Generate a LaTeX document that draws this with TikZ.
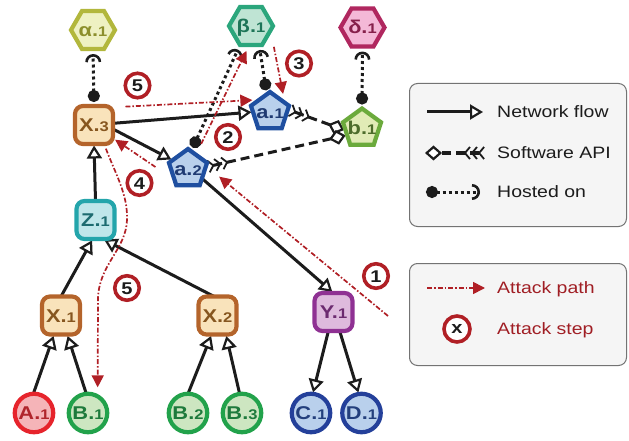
\documentclass[tikz,border=0pt]{standalone}
\usepackage{fontspec}
\setmainfont{Liberation Sans}
\newfontfamily\dfont[FakeStretch=1.18]{Liberation Sans}
\usetikzlibrary{arrows.meta,shapes.geometric}
\pgfdeclarelayer{bg}
\pgfsetlayers{bg,main}

% node palettes: fill, outline, text
\definecolor{alphafill}{HTML}{EEF1C2}\definecolor{alphaline}{HTML}{B2B73C}\definecolor{alphatext}{HTML}{8C8F2C}
\definecolor{betafill}{HTML}{BFE4D4}\definecolor{betaline}{HTML}{2BA67C}\definecolor{betatext}{HTML}{1E7558}
\definecolor{deltafill}{HTML}{F4B8D7}\definecolor{deltaline}{HTML}{B0275F}\definecolor{deltatext}{HTML}{86204B}
\definecolor{xfill}{HTML}{F9E3BB}\definecolor{xline}{HTML}{B4642B}\definecolor{xtext}{HTML}{86561F}
\definecolor{zfill}{HTML}{BFE6EA}\definecolor{zline}{HTML}{24A5AB}\definecolor{ztext}{HTML}{1D6B70}
\definecolor{yfill}{HTML}{DEBADD}\definecolor{yline}{HTML}{8F3193}\definecolor{ytext}{HTML}{6C2B70}
\definecolor{afill}{HTML}{B9D0EC}\definecolor{aline}{HTML}{1F4FA0}\definecolor{atext}{HTML}{1F3A72}
\definecolor{bfill}{HTML}{E1EBB6}\definecolor{bline}{HTML}{6BAA3C}\definecolor{btext}{HTML}{4D6C2B}
\definecolor{redfill}{HTML}{F5B4B8}\definecolor{redline}{HTML}{E6242C}\definecolor{redtext}{HTML}{B0252C}
\definecolor{grnfill}{HTML}{CDE6C1}\definecolor{grnline}{HTML}{22A24B}\definecolor{grntext}{HTML}{1E7A3C}
\definecolor{blufill}{HTML}{B9D0EC}\definecolor{bluline}{HTML}{24409A}\definecolor{blutext}{HTML}{233F7C}
\definecolor{atkred}{HTML}{B01F25}
\definecolor{atktext}{HTML}{A01E24}
\definecolor{ink}{HTML}{1C1C1C}

\newcommand\lblfont{\dfont\bfseries\fontsize{18.5}{18.5}\selectfont}
\newcommand\nlab[2]{\makebox[0pt][c]{#1.{\fontsize{14}{14}\selectfont#2}}}

\begin{document}
\begin{tikzpicture}[x=1pt,y=-1pt,
  shp/.style={inner sep=0pt, outer sep=0pt, line width=4.2pt, text height=13pt, text depth=0pt, font=\lblfont},
  hexnode/.style={shp, regular polygon, regular polygon sides=6, minimum size=44pt, draw=#1line, fill=#1fill, text=#1text},
  pentnode/.style={shp, regular polygon, regular polygon sides=5, minimum size=40pt, draw=#1line, fill=#1fill, text=#1text},
  boxnode/.style={shp, rectangle, rounded corners=8pt, minimum size=38pt, draw=#1line, fill=#1fill, text=#1text},
  roundnode/.style={shp, circle, minimum size=38.5pt, draw=#1line, fill=#1fill, text=#1text},
  flow/.style={draw=ink, line width=3pt, shorten >=1.5pt,
    -{Triangle[length=13pt,width=15pt,fill=white,line width=2.2pt]}},
  api/.style={draw=ink, line width=3pt, dash pattern=on 9pt off 5pt,
    {Straight Barb[reversed,length=5pt,width=12pt,line width=1.8pt]Straight Barb[reversed,length=5pt,width=12pt,line width=1.8pt]Straight Barb[reversed,length=5pt,width=12pt,line width=1.8pt]}-{Diamond[length=17pt,width=15pt,fill=white,line width=2.2pt]}},
  hosted/.style={draw=ink, line width=3pt, dash pattern=on 3pt off 3pt, shorten <=4pt, shorten >=5pt,
    {Circle[length=12pt]}-{Arc Barb[length=8pt,width=16pt,line width=2.6pt]}},
  atk/.style={draw=atkred, line width=1.7pt, dash pattern=on 5pt off 2pt on 1.5pt off 2pt,
    -{Triangle[length=12pt,width=12pt]}},
  stepmark/.style={circle, draw=atkred, line width=3.6pt, fill=white, minimum size=24.5pt, inner sep=0pt,
    text=ink, font=\dfont\bfseries\fontsize{17}{17}\selectfont, text height=12.2pt, text depth=0pt},
  legbox/.style={draw=black!55, line width=1pt, fill=black!4, rounded corners=8pt, anchor=north west},
  legtext/.style={anchor=west, inner sep=0pt, font=\dfont\fontsize{16.5}{18}\selectfont, text=ink,
    text height=11.8pt, text depth=0pt}]
\useasboundingbox (0,0) rectangle (629,441);

% hosts
\node[hexnode=alpha] (alpha) at (93,30) {\nlab{α}{1}};
\node[hexnode=beta]  (beta)  at (251,26) {\nlab{β}{1}};
\node[hexnode=delta] (delta) at (362.5,27.5) {\nlab{δ}{1}};

% software components
\node[pentnode=a] (a1) at (270,112) {\nlab{a}{1}};
\node[pentnode=a] (a2) at (188,169) {\nlab{a}{2}};
\node[pentnode=b] (b1) at (362,128.5) {\nlab{b}{1}};

% network devices
\node[boxnode=x] (X3) at (94,125) {\nlab{X}{3}};
\node[boxnode=z] (Z1) at (95.5,220) {\nlab{Z}{1}};
\node[boxnode=x] (X1) at (61,315.5) {\nlab{X}{1}};
\node[boxnode=x] (X2) at (217.5,315.5) {\nlab{X}{2}};
\node[boxnode=y] (Y1) at (333.5,312) {\nlab{Y}{1}};

% end points
\node[roundnode=red] (A1) at (34,413) {\nlab{A}{1}};
\node[roundnode=grn] (B1) at (88,413) {\nlab{B}{1}};
\node[roundnode=grn] (B2) at (188,413) {\nlab{B}{2}};
\node[roundnode=grn] (B3) at (242,413) {\nlab{B}{3}};
\node[roundnode=blu] (C1) at (311,413) {\nlab{C}{1}};
\node[roundnode=blu] (D1) at (361.5,413) {\nlab{D}{1}};

\coordinate (atk1) at (388,316);

\begin{pgfonlayer}{bg}
  % network flows
  \draw[flow] (A1.92) -- (X1.-110);
  \draw[flow] (B1.95) -- (X1.-72);
  \draw[flow] (B2.90) -- (X2.-107);
  \draw[flow] (B3.97) -- (X2.-66);
  \draw[flow] (X1.north) -- (Z1.-98);
  \draw[flow] (X2.100) -- (Z1.-69);
  \draw[flow] (Z1.north) -- (X3.south);
  \draw[flow] (X3.5) -- (a1.180);
  \draw[flow] (X3.-12) -- (a2.150);
  \draw[flow] (a2.-34) -- (Y1.north);
  \draw[flow] (Y1.-105) -- (C1.85);
  \draw[flow] (Y1.-72) -- (D1.98);
  % software interfaces
  \draw[api, shorten <=2pt, shorten >=1.5pt] (a1.8) -- (b1.187);
  \draw[api, shorten <=2pt, shorten >=1.5pt] (a2.6) -- (b1.204);
  % hosting
  \draw[hosted] (X3.north) -- (alpha.south);
  \draw[hosted] (a1.100) -- (beta.-67);
  \draw[hosted] (a2.80) -- (beta.-120);
  \draw[hosted] (b1.north) -- (delta.south);
  % attack path
  \draw[atk, shorten >=17pt] (atk1) -- (a2.10);
  \draw[atk, shorten <=12pt, shorten >=6.5pt] (a2.61) -- (beta.-95);
  \draw[atk, shorten <=17pt, shorten >=9pt] (beta.-12) -- (a1.32);
  \draw[atk, shorten <=23pt, shorten >=2.5pt] (a2.219) -- (X3.-35);
  \draw[atk, shorten <=12.5pt, shorten >=7pt] (X3.43) -- (a1.131);
  \draw[atk, shorten <=5pt, shorten >=9pt] (X3.-62) .. controls (116,175) and (128,195) .. (127,220)
     .. controls (126,250) and (98,265) .. (98,300) -- (B1.60);
\end{pgfonlayer}

% attack steps
\node[stepmark] (s1)  at (376,276) {1};
\node[stepmark] (s2)  at (228,137) {2};
\node[stepmark] (s3)  at (299,63.5) {3};
\node[stepmark] (s4)  at (139.5,183) {4};
\node[stepmark] (s5a) at (137.5,85.5) {5};
\node[stepmark] (s5b) at (127,288) {5};

% legend: connector kinds
\node[legbox, minimum width=217pt, minimum height=143pt] (leg1) at (409,83) {};
\coordinate (l1a) at (427,112); \coordinate (l1b) at (483,112);
\draw[flow, shorten >=0pt] (l1a) -- (l1b);
\node[legtext] (t1) at (497,112) {Network flow};
\coordinate (l2a) at (425,153); \coordinate (l2b) at (485,153);
\draw[api] (l2b) -- (l2a);
\node[legtext] (t2) at (497,153) {Software API};
\coordinate (l3a) at (426,192); \coordinate (l3b) at (480,192);
\draw[hosted, shorten <=0pt, shorten >=0pt] (l3a) -- (l3b);
\node[legtext] (t3) at (497,192) {Hosted on};

% legend: attack
\node[legbox, minimum width=217pt, minimum height=102pt] (leg2) at (409,263) {};
\coordinate (l4a) at (427,288); \coordinate (l4b) at (485,288);
\draw[atk] (l4a) -- (l4b);
\node[legtext, text=atktext] (t4) at (497,288) {Attack path};
\node[stepmark, minimum size=26pt, text height=8.5pt] (lstep) at (457,329) {x};
\node[legtext, text=atktext] (t5) at (497,329) {Attack step};
\end{tikzpicture}
\end{document}
